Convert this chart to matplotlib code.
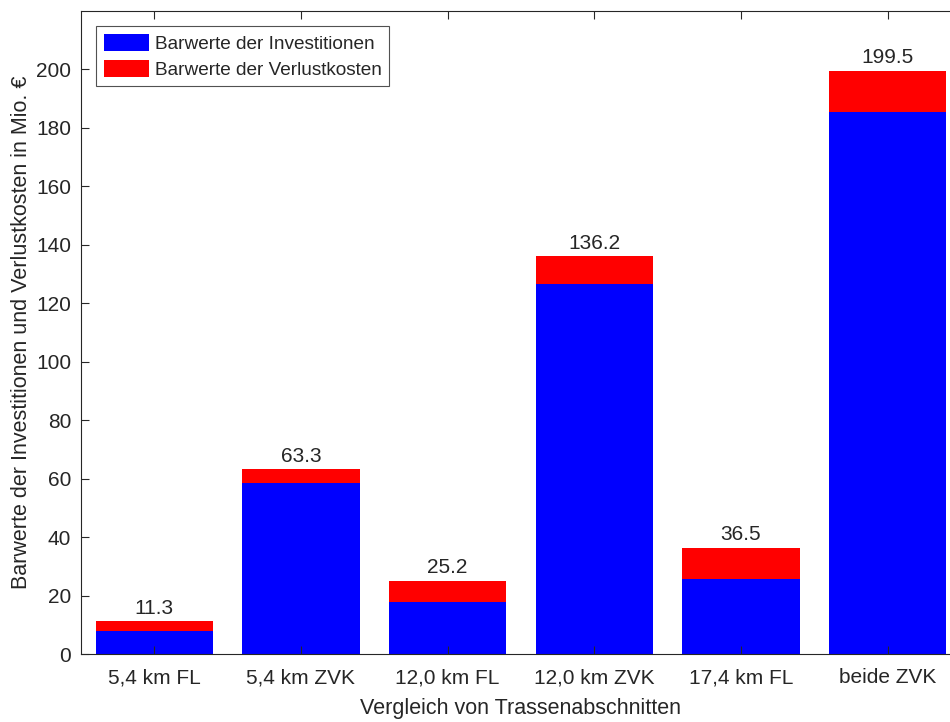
import matplotlib
matplotlib.use("Agg")
import matplotlib.pyplot as plt
import numpy as np

plt.rcParams['font.family'] = ['Liberation Sans', 'DejaVu Sans']

categories = ["5,4 km FL", "5,4 km ZVK", "12,0 km FL", "12,0 km ZVK", "17,4 km FL", "beide ZVK"]
investitionen = [7.8, 58.6, 17.9, 126.6, 25.6, 185.5]
verlustkosten = [3.5, 4.7, 7.3, 9.6, 10.9, 14.0]
totals = [11.3, 63.3, 25.2, 136.2, 36.5, 199.5]

txt = '#262626'
fig = plt.figure(figsize=(9.5, 7.22), dpi=100)
ax = fig.add_axes([81/950, 1 - 654.3/722, 880/950, 643.3/722])
x = np.arange(1, len(categories) + 1)
ax.bar(x, investitionen, width=0.8, color='#0000ff', label='Barwerte der Investitionen')
ax.bar(x, verlustkosten, width=0.8, bottom=investitionen, color='#ff0000', label='Barwerte der Verlustkosten')
for xi, t in zip(x, totals):
    ax.text(xi, t + 1.2, f"{t:.1f}", ha='center', va='bottom', fontsize=15, color=txt)

ax.set_xlim(0.5, 6.5)
ax.set_ylim(0, 220)
ax.set_yticks(np.arange(0, 201, 20))
ax.set_xticks(x)
ax.set_xticklabels(categories)
ax.tick_params(direction='in', length=6, labelsize=15, colors=txt, top=True, right=True)
ax.tick_params(axis='x', pad=10)
ax.tick_params(axis='y', pad=7)
for s in ax.spines.values():
    s.set_color(txt)
    s.set_linewidth(0.8)
ax.set_xlabel("Vergleich von Trassenabschnitten", fontsize=15.5, color=txt, labelpad=8)
ax.set_ylabel("Barwerte der Investitionen und Verlustkosten in Mio. €", fontsize=15.5, color=txt, labelpad=3)
leg = ax.legend(loc='upper left', fontsize=13.7, frameon=True, fancybox=False, edgecolor=txt,
                handlelength=2.37, handleheight=1.0, handletextpad=0.3, borderpad=0.4,
                borderaxespad=0.8, labelspacing=0.35)
leg.get_frame().set_linewidth(0.8)
for t in leg.get_texts():
    t.set_color(txt)
fig.savefig("out.png", dpi=100)
